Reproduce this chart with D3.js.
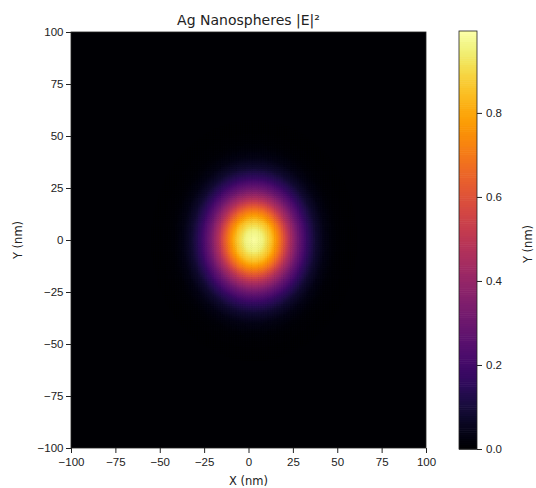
<!DOCTYPE html>
<html>
<head>
<meta charset="utf-8">
<script src="https://cdn.jsdelivr.net/npm/d3@7"></script>
<style>
  body { margin: 0; background: #fff; }
  svg { display: block; font-family: "DejaVu Sans", sans-serif; }
  .tick text { fill: #222; }
</style>
</head>
<body>
<svg id="chart" width="536" height="488"></svg>
<script>
// axis ticks
var xTicks = [-100, -75, -50, -25, 0, 25, 50, 75, 100];
var yTicks = [-100, -75, -50, -25, 0, 25, 50, 75, 100];
var cbarTicks = [0, 0.2, 0.4, 0.6, 0.8];

// radial |E|^2 profile (nm -> normalised intensity)
var radiusNm  = [0,    5,     10,   15,   20,   25,   30,   35,    40,    45,    50,    55,    60];
var intensity = [0.99, 0.955, 0.85, 0.68, 0.47, 0.30, 0.17, 0.085, 0.037, 0.014, 0.005, 0.001, 0];
var spotCenter = [3, 0];   // nm
var cmax = 0.995;

var svg = d3.select('#chart');
var plot = { left: 71, right: 426, top: 32, bottom: 448 };
var cbar = { left: 459, right: 477, top: 31, bottom: 449 };

var x = d3.scaleLinear().domain([-100, 100]).range([plot.left, plot.right]);
var y = d3.scaleLinear().domain([-100, 100]).range([plot.bottom, plot.top]);
var profile = d3.scaleLinear().domain(radiusNm).range(intensity).clamp(true);
var color = d3.scaleSequential(d3.interpolateInferno).domain([0, cmax]);

// background = lowest colour of the map
svg.append('rect')
    .attr('x', plot.left).attr('y', plot.top)
    .attr('width', plot.right - plot.left).attr('height', plot.bottom - plot.top)
    .attr('fill', color(0));

// field cells (1 nm grid around the spot)
var step = 1;
var cells = [];
d3.range(-65, 65 + step, step).forEach(function (gx) {
    d3.range(-65, 65 + step, step).forEach(function (gy) {
        var r = Math.hypot(gx - spotCenter[0], gy - spotCenter[1]);
        var v = profile(r);
        if (v > 0.0005) cells.push({ gx: gx, gy: gy, v: v });
    });
});
var cw = x(step) - x(0), ch = y(0) - y(step);
svg.append('g').selectAll('rect')
    .data(cells)
    .join('rect')
    .attr('x', function (d) { return x(d.gx) - cw / 2; })
    .attr('y', function (d) { return y(d.gy) - ch / 2; })
    .attr('width', cw + 0.6)
    .attr('height', ch + 0.6)
    .attr('fill', function (d) { return color(d.v); });

// axes
var fmt = d3.format('d');
var xAxis = svg.append('g')
    .attr('transform', 'translate(0,' + plot.bottom + ')')
    .call(d3.axisBottom(x).tickValues(xTicks).tickFormat(fmt).tickSize(5).tickPadding(5));
var yAxis = svg.append('g')
    .attr('transform', 'translate(' + plot.left + ',0)')
    .call(d3.axisLeft(y).tickValues(yTicks).tickFormat(fmt).tickSize(5).tickPadding(2.5));
[xAxis, yAxis].forEach(function (a) {
    a.select('.domain').remove();
    a.selectAll('text').style('font-size', '11.5px');
    a.selectAll('line').attr('stroke', '#222');
});

svg.append('rect')
    .attr('x', plot.left).attr('y', plot.top)
    .attr('width', plot.right - plot.left).attr('height', plot.bottom - plot.top)
    .attr('fill', 'none').attr('stroke', '#222').attr('stroke-width', 0.8);

// labels
svg.append('text')
    .attr('x', (plot.left + plot.right) / 2).attr('y', 25)
    .attr('text-anchor', 'middle')
    .style('font-size', '14px').attr('fill', '#222')
    .text('Ag Nanospheres |E|²');
svg.append('text')
    .attr('x', (plot.left + plot.right) / 2).attr('y', 484.5)
    .attr('text-anchor', 'middle')
    .style('font-size', '11.5px').attr('fill', '#222')
    .text('X (nm)');
svg.append('text')
    .attr('transform', 'translate(22,' + (plot.top + plot.bottom) / 2 + ') rotate(-90)')
    .attr('text-anchor', 'middle')
    .style('font-size', '11.5px').attr('fill', '#222')
    .text('Y (nm)');
// label of the next panel, at the figure edge
svg.append('text')
    .attr('transform', 'translate(532,244) rotate(-90)')
    .attr('text-anchor', 'middle')
    .style('font-size', '11.5px').attr('fill', '#222')
    .text('Y (nm)');

// colourbar
var cy = d3.scaleLinear().domain([0, cmax]).range([cbar.bottom, cbar.top]);
var nStops = 200;
var cbVals = d3.range(nStops).map(function (i) { return cmax * i / nStops; });
svg.append('g').selectAll('rect')
    .data(cbVals)
    .join('rect')
    .attr('x', cbar.left)
    .attr('y', function (d) { return cy(d + cmax / nStops); })
    .attr('width', cbar.right - cbar.left)
    .attr('height', (cbar.bottom - cbar.top) / nStops + 0.6)
    .attr('fill', function (d) { return color(d + cmax / nStops / 2); });
svg.append('rect')
    .attr('x', cbar.left).attr('y', cbar.top)
    .attr('width', cbar.right - cbar.left).attr('height', cbar.bottom - cbar.top)
    .attr('fill', 'none').attr('stroke', '#222').attr('stroke-width', 0.8);
var cAxis = svg.append('g')
    .attr('transform', 'translate(' + cbar.right + ',0)')
    .call(d3.axisRight(cy).tickValues(cbarTicks).tickFormat(d3.format('.1f')).tickSize(5).tickPadding(4));
cAxis.select('.domain').remove();
cAxis.selectAll('text').style('font-size', '11.5px');
cAxis.selectAll('line').attr('stroke', '#222');
</script>
</body>
</html>
